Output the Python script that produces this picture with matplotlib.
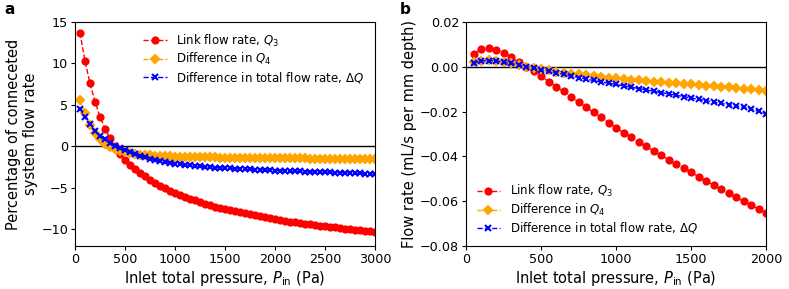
import matplotlib.pyplot as plt
import numpy as np

# panel a: percentage of connected system flow rate
p_a = np.arange(50, 3001, 50)
q3_pct = [13.7, 10.3, 7.6, 5.4, 3.6, 2.15, 1.0, 0.0, -0.9, -1.6,
          -2.2, -2.7, -3.2, -3.6, -4.0, -4.4, -4.75, -5.05, -5.35, -5.6,
          -5.85, -6.1, -6.3, -6.5, -6.7, -6.9, -7.05, -7.25, -7.4, -7.55,
          -7.7, -7.83, -7.96, -8.08, -8.2, -8.32, -8.44, -8.55, -8.66, -8.76,
          -8.86, -8.96, -9.05, -9.14, -9.23, -9.31, -9.4, -9.48, -9.56, -9.63,
          -9.7, -9.77, -9.84, -9.91, -9.98, -10.05, -10.11, -10.17, -10.23, -10.3]
q4_pct = [5.6, 4.0, 2.6, 1.6, 0.9, 0.35, -0.05, -0.35, -0.55, -0.72,
          -0.84, -0.92, -0.98, -1.03, -1.08, -1.12, -1.15, -1.18, -1.2, -1.23,
          -1.25, -1.26, -1.27, -1.29, -1.3, -1.31, -1.32, -1.33, -1.34, -1.35,
          -1.36, -1.37, -1.38, -1.38, -1.39, -1.4, -1.4, -1.41, -1.42, -1.42,
          -1.43, -1.43, -1.44, -1.44, -1.45, -1.45, -1.46, -1.46, -1.47, -1.47,
          -1.48, -1.48, -1.49, -1.49, -1.5, -1.5, -1.51, -1.51, -1.52, -1.52]
dq_pct = [4.55, 3.5, 2.7, 1.9, 1.3, 0.95, 0.47, 0.1, -0.2, -0.45,
          -0.7, -0.92, -1.12, -1.3, -1.46, -1.6, -1.73, -1.85, -1.97, -2.08,
          -2.15, -2.22, -2.28, -2.34, -2.4, -2.45, -2.5, -2.54, -2.58, -2.62,
          -2.65, -2.68, -2.71, -2.74, -2.77, -2.8, -2.82, -2.85, -2.87, -2.9,
          -2.92, -2.95, -2.97, -2.99, -3.01, -3.03, -3.05, -3.07, -3.09, -3.11,
          -3.13, -3.15, -3.17, -3.19, -3.21, -3.23, -3.25, -3.28, -3.31, -3.34]

# panel b: flow rate (mL/s per mm depth)
p_b = np.arange(50, 2001, 50)
q3_flow = [0.0058, 0.0079, 0.0082, 0.0073, 0.006, 0.0043, 0.0021, 0.0, -0.002, -0.0042,
           -0.0066, -0.0088, -0.011, -0.0134, -0.0157, -0.018, -0.0203, -0.0226, -0.0249, -0.0272,
           -0.0294, -0.0315, -0.0336, -0.0355, -0.0375, -0.0395, -0.0415, -0.0434, -0.0452, -0.0471,
           -0.049, -0.0509, -0.0528, -0.0547, -0.0565, -0.0583, -0.0601, -0.0618, -0.0635, -0.0652]
q4_flow = [0.002, 0.0028, 0.003, 0.0027, 0.0022, 0.0015, 0.0008, 0.0001, -0.0005, -0.0011,
           -0.0016, -0.0021, -0.0026, -0.003, -0.0034, -0.0038, -0.0042, -0.0045, -0.0048, -0.0051,
           -0.0054, -0.0057, -0.006, -0.0063, -0.0066, -0.0069, -0.0072, -0.0074, -0.0077, -0.0079,
           -0.0082, -0.0084, -0.0087, -0.0089, -0.0092, -0.0094, -0.0097, -0.0099, -0.0102, -0.0108]
dq_flow = [0.0018, 0.0026, 0.0028, 0.0026, 0.0021, 0.0015, 0.0008, 0.0001, -0.0006, -0.0013,
           -0.002, -0.0027, -0.0034, -0.0041, -0.0048, -0.0055, -0.0061, -0.0067, -0.0073, -0.0079,
           -0.0085, -0.0091, -0.0097, -0.0103, -0.0109, -0.0115, -0.0121, -0.0127, -0.0133, -0.0139,
           -0.0145, -0.0151, -0.0157, -0.0163, -0.0169, -0.0175, -0.0181, -0.0188, -0.0199, -0.021]

labels = ["Link flow rate, $Q_3$", "Difference in $Q_4$",
          "Difference in total flow rate, $\\Delta Q$"]
styles = [("red", "o"), ("orange", "D"), ("blue", "x")]

fig = plt.figure(figsize=(7.89, 2.89), dpi=100)
W, H = 789, 289
ax_a = fig.add_axes([75 / W, 43 / H, 300 / W, 224 / H])
ax_b = fig.add_axes([466 / W, 43 / H, 300 / W, 224 / H])

for ax, x, series in [(ax_a, p_a, [q3_pct, q4_pct, dq_pct]),
                      (ax_b, p_b, [q3_flow, q4_flow, dq_flow])]:
    ax.axhline(0, color="black", lw=1, zorder=1)
    for y, (c, m), lab in zip(series, styles, labels):
        ax.plot(x, y, "--", color=c, marker=m, ms=4.4, mew=1.5, lw=1, label=lab)
    ax.set_xlabel("Inlet total pressure, $P_{\\mathrm{in}}$ (Pa)", fontsize=10.5, labelpad=2)
    ax.tick_params(labelsize=9.2, length=3, pad=2)

ax_a.set_xlim(0, 3000)
ax_a.set_ylim(-12, 15)
ax_a.set_yticks([-10, -5, 0, 5, 10, 15])
ax_a.set_ylabel("Percentage of conneceted\nsystem flow rate", fontsize=10.5, labelpad=2)
ax_a.legend(loc="upper right", frameon=False, fontsize=8.5, labelspacing=0.22)

ax_b.set_xlim(0, 2000)
ax_b.set_ylim(-0.08, 0.02)
ax_b.set_yticks([-0.08, -0.06, -0.04, -0.02, 0.0, 0.02])
ax_b.set_ylabel("Flow rate (mL/s per mm depth)", fontsize=10.5, labelpad=2)
ax_b.legend(loc="lower left", frameon=False, fontsize=8.5, labelspacing=0.22)

fig.text(4 / W, 1 - 9 / H, "a", fontsize=11, fontweight="bold", va="center")
fig.text(400 / W, 1 - 9 / H, "b", fontsize=11, fontweight="bold", va="center")

plt.savefig("out.png", dpi=100)
